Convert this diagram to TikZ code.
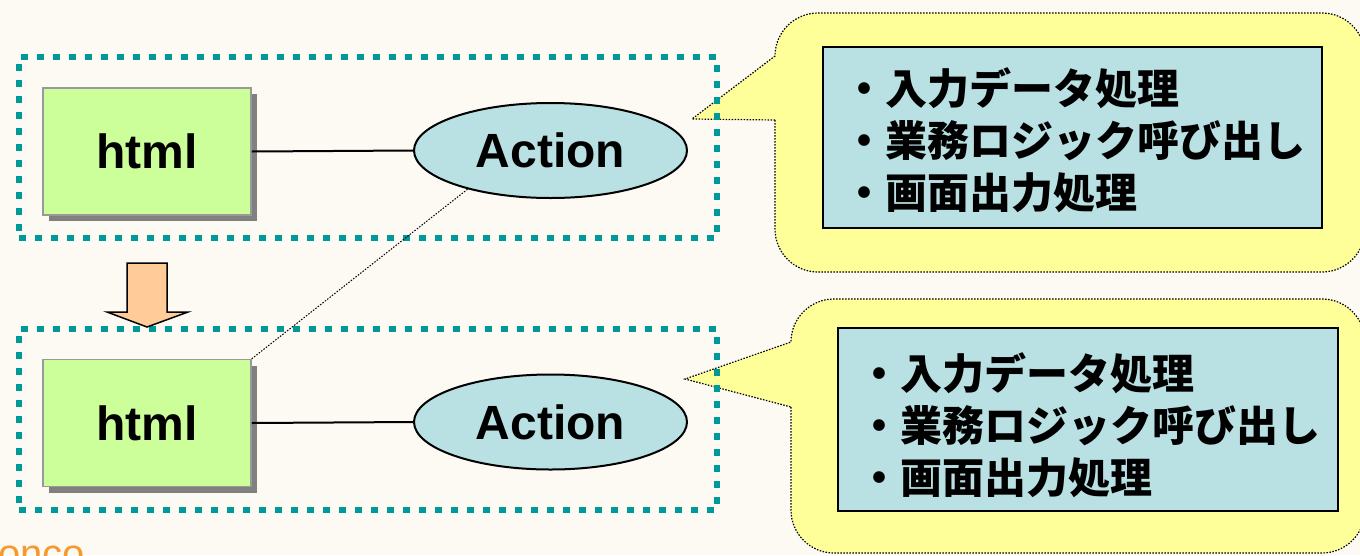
\documentclass[tikz,border=0pt]{standalone}
\usepackage{fontspec}
\setmainfont{Liberation Sans}
\newfontfamily\cjk{Noto Sans CJK JP}
\usetikzlibrary{shapes.geometric,shadows}
\definecolor{bgcream}{HTML}{FDF9F3}
\definecolor{htmlgreen}{HTML}{CCFF99}
\definecolor{boxgray}{HTML}{999999}
\definecolor{shadowgray}{HTML}{808080}
\definecolor{actblue}{HTML}{B9E0E3}
\definecolor{tealdot}{HTML}{009999}
\definecolor{bubbleyellow}{HTML}{FFFF99}
\definecolor{arrowpeach}{HTML}{FFCC99}
\definecolor{logoorange}{HTML}{F59A2E}
\begin{document}
\begin{tikzpicture}[x=1pt,y=-1pt,
  htmlbox/.style={rectangle, fill=htmlgreen, draw=boxgray, line width=1.5pt,
    minimum width=208pt, minimum height=127pt, inner sep=0pt,
    font=\fontsize{48}{52}\selectfont\bfseries,
    drop shadow={shadow xshift=6pt, shadow yshift=-6pt, fill=shadowgray, opacity=1}},
  actionnode/.style={ellipse, fill=actblue, draw=black, line width=2pt,
    minimum width=273pt, minimum height=95pt, inner sep=0pt,
    font=\fontsize{48}{52}\selectfont\bfseries},
  tealframe/.style={rectangle, draw=tealdot, line width=6.7pt,
    dash pattern=on 6.7pt off 9.3pt, inner sep=0pt, minimum width=698pt, minimum height=181pt},
  bubble/.style={fill=bubbleyellow, draw=black, line width=1.2pt, dash pattern=on 1.5pt off 1.5pt},
  infobox/.style={rectangle, fill=actblue, draw=black, line width=2.5pt, inner sep=0pt},
  infotext/.style={anchor=west, align=left, inner sep=0pt,
    font=\cjk\bfseries\fontsize{42}{52}\selectfont},
  conn/.style={draw=black, line width=2pt},
  dotconn/.style={draw=black, line width=1pt, dash pattern=on 1.5pt off 1.5pt},
  blockarrow/.style={fill=arrowpeach, draw=black, line width=1.5pt, line join=miter},
]
\useasboundingbox (0,0) rectangle (1360,555);
\clip (0,0) rectangle (1360,555);
\fill[bgcream] (0,0) rectangle (1360,555);

% callout bubbles
\draw[bubble] (775,120) -- (775,229) arc[start angle=180, end angle=90, radius=43]
  -- (1322,272) arc[start angle=90, end angle=0, radius=43]
  -- (1365,56) arc[start angle=0, end angle=-90, radius=43]
  -- (818,13) arc[start angle=-90, end angle=-180, radius=43]
  -- (692,119) -- cycle;
\draw[bubble] (791,407) -- (791,510) arc[start angle=180, end angle=90, radius=43]
  -- (1322,553) arc[start angle=90, end angle=0, radius=43]
  -- (1365,342) arc[start angle=0, end angle=-90, radius=43]
  -- (834,299) arc[start angle=-90, end angle=-180, radius=43]
  -- (685,379) -- cycle;

\node[infobox, minimum width=499pt, minimum height=181pt] (info1) at (1072.5,137.5) {};
\node[infobox, minimum width=500pt, minimum height=183pt] (info2) at (1088,419.5) {};
\node[infotext] (text1) at (843,140) {・入力データ処理\\・業務ロジック呼び出し\\・画面出力処理};
\node[infotext] (text2) at (858,425) {・入力データ処理\\・業務ロジック呼び出し\\・画面出力処理};

% frames
\node[tealframe] (frame1) at (368,147.5) {};
\node[tealframe] (frame2) at (368,419.5) {};

% nodes
\node[htmlbox] (html1) at (147,151.5) {html};
\node[htmlbox] (html2) at (147,423) {html};
\node[actionnode] (action1) at (550.5,150.5) {Action};
\node[actionnode] (action2) at (550.5,422) {Action};

\draw[conn] (html1.east) -- (action1.west);
\draw[conn] (html2.east) -- (action2.west);

% block arrow
\draw[blockarrow] (127,263) -- (167,263) -- (167,312) -- (188,312) -- (147,327)
  -- (107,312) -- (127,312) -- cycle;

\draw[dotconn] (action1.205) -- (html2.north east);

% partial logo
\node[anchor=base west, inner sep=0pt, text=logoorange, font=\fontsize{40}{40}\selectfont] (logo) at (-2,567) {onco};
\end{tikzpicture}
\end{document}
